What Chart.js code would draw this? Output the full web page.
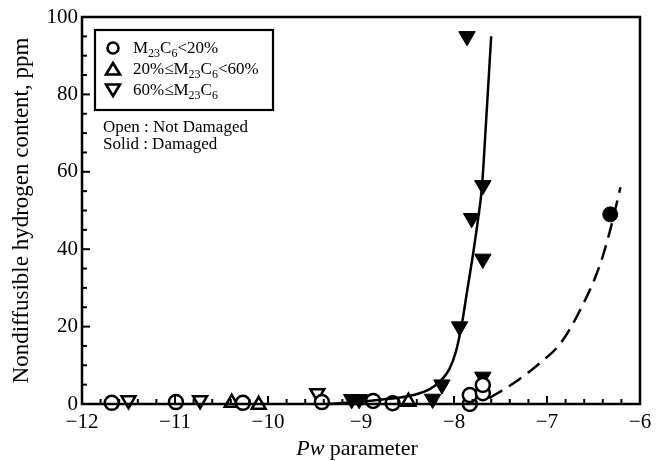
<!DOCTYPE html>
<html>
<head>
<meta charset="utf-8">
<script src="https://cdn.jsdelivr.net/npm/chart.js@4"></script>
<style>
  html, body { margin: 0; padding: 0; background: #fff; }
  #wrap { width: 664px; height: 461px; }
</style>
</head>
<body>
<div id="wrap"><canvas id="hydrogenChart" width="664" height="461"></canvas></div>
<script>
// Data: [Pw parameter, ppm]
const circleOpen = [[-11.68, 0.3], [-10.99, 0.5], [-10.27, 0.3], [-9.42, 0.5], [-8.87, 0.8], [-8.66, 0.2],
    [-7.83, 0.0], [-7.83, 2.3], [-7.69, 2.8], [-7.69, 4.9]];
const triUpOpen = [[-10.39, 0.3], [-10.1, -0.2], [-8.49, 0.6]];
const triDownOpen = [[-11.5, 1.0], [-10.73, 1.0], [-9.47, 2.8]];
const triDownSolid = [[-7.86, 95], [-7.69, 56.5], [-7.81, 48], [-7.69, 37.5], [-7.94, 20], [-8.13, 5],
    [-8.23, 1.3], [-7.69, 7], [-9.1, 1.2], [-9.02, 1.2]];
const circleSolid = [[-6.32, 49]];
const fitSolid = [[-9.35, 0], [-9.0, 0.6], [-8.75, 1.2], [-8.5, 2], [-8.3, 3.4], [-8.15, 5.8], [-8.05, 9],
    [-7.98, 13.5], [-7.92, 20], [-7.86, 29], [-7.8, 38], [-7.74, 48], [-7.7, 56], [-7.65, 75], [-7.6, 95]];
const fitDashed = [[-7.62, 1.5], [-7.32, 6], [-7.08, 10.5], [-6.86, 15.5], [-6.66, 23.5], [-6.43, 36],
    [-6.32, 45], [-6.21, 56]];
const xTicks = [-12, -11, -10, -9, -8, -7, -6];
const yTicks = [0, 20, 40, 60, 80, 100];

const SERIF = '"Liberation Serif", "DejaVu Serif", serif';

function toXY(arr) {
    return arr.map(p => ({ x: p[0], y: p[1] }));
}

// frame, inward ticks, legend box, x title
const decorPlugin = {
    id: 'decor',
    afterDraw(chart) {
        const ctx = chart.ctx;
        const area = chart.chartArea;
        const xs = chart.scales.x;
        const ys = chart.scales.y;
        ctx.save();
        ctx.strokeStyle = '#000';
        ctx.lineWidth = 2.5;
        ctx.strokeRect(area.left, area.top, area.right - area.left, area.bottom - area.top);

        // bottom ticks
        ctx.lineWidth = 2;
        for (let i = 0; i <= 30; i++) {
            const v = -12 + i * 0.2;
            const px = xs.getPixelForValue(v);
            const len = i % 5 === 0 ? 8 : 5;
            ctx.beginPath();
            ctx.moveTo(px, area.bottom);
            ctx.lineTo(px, area.bottom - len);
            ctx.stroke();
        }
        // left ticks
        for (let v = 0; v <= 100; v += 5) {
            const py = ys.getPixelForValue(v);
            const len = v % 20 === 0 ? 8 : 5;
            ctx.beginPath();
            ctx.moveTo(area.left, py);
            ctx.lineTo(area.left + len, py);
            ctx.stroke();
        }

        // legend
        const bx = 95, by = 30, bw = 178, bh = 80;
        ctx.fillStyle = '#fff';
        ctx.fillRect(bx, by, bw, bh);
        ctx.lineWidth = 2.2;
        ctx.strokeRect(bx, by, bw, bh);

        const mx = 113;
        const rows = [48, 69, 90];
        ctx.lineWidth = 2.6;
        // circle
        ctx.beginPath();
        ctx.arc(mx, rows[0], 5.5, 0, Math.PI * 2);
        ctx.stroke();
        // up triangle
        ctx.beginPath();
        ctx.moveTo(mx, rows[1] - 6);
        ctx.lineTo(mx + 7, rows[1] + 5.5);
        ctx.lineTo(mx - 7, rows[1] + 5.5);
        ctx.closePath();
        ctx.stroke();
        // down triangle
        ctx.beginPath();
        ctx.moveTo(mx, rows[2] + 6);
        ctx.lineTo(mx + 7, rows[2] - 5.5);
        ctx.lineTo(mx - 7, rows[2] - 5.5);
        ctx.closePath();
        ctx.stroke();

        ctx.fillStyle = '#000';
        ctx.textBaseline = 'alphabetic';
        const big = '17px ' + SERIF;
        const small = '12px ' + SERIF;
        function rich(parts, x, y) {
            parts.forEach(p => {
                ctx.font = p.sub ? small : big;
                ctx.fillText(p.t, x, y + (p.sub ? 4 : 0));
                x += ctx.measureText(p.t).width;
            });
        }
        rich([{ t: 'M' }, { t: '23', sub: true }, { t: 'C' }, { t: '6', sub: true }, { t: '<20%' }], 133, rows[0] + 5);
        rich([{ t: '20%≤M' }, { t: '23', sub: true }, { t: 'C' }, { t: '6', sub: true }, { t: '<60%' }], 133, rows[1] + 5);
        rich([{ t: '60%≤M' }, { t: '23', sub: true }, { t: 'C' }, { t: '6', sub: true }], 133, rows[2] + 5);

        ctx.font = big;
        ctx.fillText('Open : Not Damaged', 103, 132);
        ctx.fillText('Solid : Damaged', 103, 149);

        // x axis title with italic Pw
        ctx.font = 'italic 22px ' + SERIF;
        const a = 'Pw';
        const wa = ctx.measureText(a).width;
        ctx.font = '22px ' + SERIF;
        const b = ' parameter';
        const wb = ctx.measureText(b).width;
        const sx = 357 - (wa + wb) / 2;
        ctx.font = 'italic 22px ' + SERIF;
        ctx.fillText(a, sx, 455);
        ctx.font = '22px ' + SERIF;
        ctx.fillText(b, sx + wa, 455);
        ctx.restore();
    }
};

const ctx = document.getElementById('hydrogenChart').getContext('2d');

new Chart(ctx, {
    type: 'scatter',
    data: {
        datasets: [{
            label: 'fit solid',
            type: 'line',
            data: toXY(fitSolid),
            borderColor: '#000',
            borderWidth: 2.5,
            pointRadius: 0,
            fill: false,
            cubicInterpolationMode: 'monotone'
        }, {
            label: 'fit dashed',
            type: 'line',
            data: toXY(fitDashed),
            borderColor: '#000',
            borderWidth: 2.5,
            borderDash: [15, 8],
            pointRadius: 0,
            fill: false,
            cubicInterpolationMode: 'monotone'
        }, {
            label: 'M23C6<20%',
            data: toXY(circleOpen),
            pointStyle: 'circle',
            pointRadius: 7,
            backgroundColor: '#fff',
            borderColor: '#000',
            borderWidth: 2.5
        }, {
            label: '20%≤M23C6<60%',
            data: toXY(triUpOpen),
            pointStyle: 'triangle',
            pointRadius: 8,
            backgroundColor: '#fff',
            borderColor: '#000',
            borderWidth: 2.5
        }, {
            label: '60%≤M23C6',
            data: toXY(triDownOpen),
            pointStyle: 'triangle',
            pointRotation: 180,
            pointRadius: 8,
            backgroundColor: '#fff',
            borderColor: '#000',
            borderWidth: 2.5
        }, {
            label: '60%≤M23C6 damaged',
            data: toXY(triDownSolid),
            pointStyle: 'triangle',
            pointRotation: 180,
            pointRadius: 9.5,
            backgroundColor: '#000',
            borderColor: '#000',
            borderWidth: 1
        }, {
            label: 'M23C6<20% damaged',
            data: toXY(circleSolid),
            pointStyle: 'circle',
            pointRadius: 7.5,
            backgroundColor: '#000',
            borderColor: '#000',
            borderWidth: 1
        }]
    },
    options: {
        responsive: false,
        animation: false,
        clip: false,
        layout: {
            padding: { left: 0, right: 24, top: 17, bottom: 0 }
        },
        plugins: {
            legend: { display: false },
            tooltip: { enabled: false }
        },
        scales: {
            x: {
                type: 'linear',
                min: -12,
                max: -6,
                afterBuildTicks: (scale) => {
                    scale.ticks = xTicks.map(v => ({ value: v }));
                },
                afterFit: (scale) => { scale.height = 57; },
                grid: { display: false, drawTicks: false },
                border: { display: false },
                ticks: {
                    padding: 6,
                    color: '#000',
                    font: { family: SERIF, size: 21 },
                    callback: (v) => String(v).replace('-', '\u2212')
                }
            },
            y: {
                type: 'linear',
                min: 0,
                max: 100,
                afterBuildTicks: (scale) => {
                    scale.ticks = yTicks.map(v => ({ value: v }));
                },
                afterFit: (scale) => { scale.width = 82; },
                grid: { display: false, drawTicks: false },
                border: { display: false },
                ticks: {
                    padding: 4,
                    color: '#000',
                    font: { family: SERIF, size: 21 }
                },
                title: {
                    display: true,
                    text: 'Nondiffusible hydrogen content, ppm',
                    color: '#000',
                    font: { family: SERIF, size: 23 },
                    padding: { top: 8, bottom: 0 }
                }
            }
        }
    },
    plugins: [decorPlugin]
});
</script>
</body>
</html>
